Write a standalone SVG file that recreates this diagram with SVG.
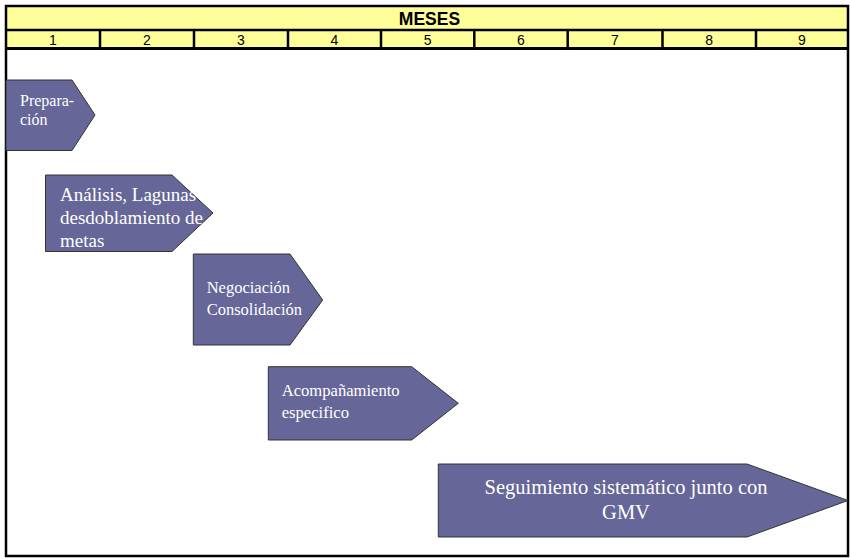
<svg xmlns="http://www.w3.org/2000/svg" width="850" height="558" viewBox="0 0 850 558">
<style>
.hdr{fill:#FFFF99}
.ln{stroke:#000;stroke-width:2.5;fill:none}
.mes{font-family:"Liberation Sans",Arial,sans-serif;font-weight:bold;font-size:17.5px;fill:#000;text-anchor:middle}
.num{font-family:"Liberation Sans",Arial,sans-serif;font-size:14px;fill:#000;text-anchor:middle}
.step{fill:#666699;stroke:#333333;stroke-width:1}
.t{font-family:"Liberation Serif","Times New Roman",serif;fill:#FFFFFF}
</style>
<rect x="0" y="0" width="850" height="558" fill="#FFFFFF"/>
<g id="header">
<rect class="hdr" x="6" y="6" width="842" height="42"/>
<line class="ln" x1="6" y1="30" x2="848" y2="30"/>
<line class="ln" x1="6" y1="48.5" x2="848" y2="48.5" style="stroke-width:3"/>
<line class="ln" x1="100" y1="30" x2="100" y2="48.5"/>
<line class="ln" x1="194" y1="30" x2="194" y2="48.5"/>
<line class="ln" x1="288" y1="30" x2="288" y2="48.5"/>
<line class="ln" x1="381" y1="30" x2="381" y2="48.5"/>
<line class="ln" x1="474.3" y1="30" x2="474.3" y2="48.5"/>
<line class="ln" x1="567.7" y1="30" x2="567.7" y2="48.5"/>
<line class="ln" x1="662.5" y1="30" x2="662.5" y2="48.5"/>
<line class="ln" x1="756" y1="30" x2="756" y2="48.5"/>
<text class="mes" x="429.5" y="25">MESES</text>
<text class="num" x="53" y="45">1</text>
<text class="num" x="147" y="45">2</text>
<text class="num" x="241" y="45">3</text>
<text class="num" x="334.5" y="45">4</text>
<text class="num" x="427.7" y="45">5</text>
<text class="num" x="521" y="45">6</text>
<text class="num" x="615" y="45">7</text>
<text class="num" x="709.2" y="45">8</text>
<text class="num" x="802" y="45">9</text>
</g>
<g id="frame">
<rect class="ln" x="6" y="6" width="842" height="550"/>
</g>
<g id="preparacion">
<polygon class="step" points="6,80 72,80 95,115 72,150.5 6,150.5"/>
<text class="t" font-size="16" x="20" y="106">Prepara-</text>
<text class="t" font-size="16" x="20" y="125">ción</text>
</g>
<g id="analisis">
<polygon class="step" points="45.5,175 172,175 213,213 172,251.5 45.5,251.5"/>
<text class="t" font-size="19" x="60" y="200.7">Análisis, Lagunas</text>
<text class="t" font-size="19" x="60" y="224">desdoblamiento de</text>
<text class="t" font-size="19" x="60" y="247">metas</text>
</g>
<g id="negociacion">
<polygon class="step" points="193.3,254 290,254 322.7,300 290,345 193.3,345"/>
<text class="t" font-size="16.5" x="206.7" y="293.3">Negociación</text>
<text class="t" font-size="16.5" x="206.7" y="315">Consolidación</text>
</g>
<g id="acompanamiento">
<polygon class="step" points="268.3,366.7 411.7,366.7 458.3,403.3 411.7,440 268.3,440"/>
<text class="t" font-size="16.6" x="281.7" y="396">Acompañamiento</text>
<text class="t" font-size="16.6" x="281.7" y="417.5">especifico</text>
</g>
<g id="seguimiento">
<polygon class="step" points="438.3,464 747,464 848,500.5 747,537 438.3,537"/>
<text class="t" font-size="20.5" x="626" y="494.3" text-anchor="middle">Seguimiento sistemático junto con</text>
<text class="t" font-size="20.5" x="626" y="519" text-anchor="middle">GMV</text>
</g>
<g id="connectors"></g>
</svg>
